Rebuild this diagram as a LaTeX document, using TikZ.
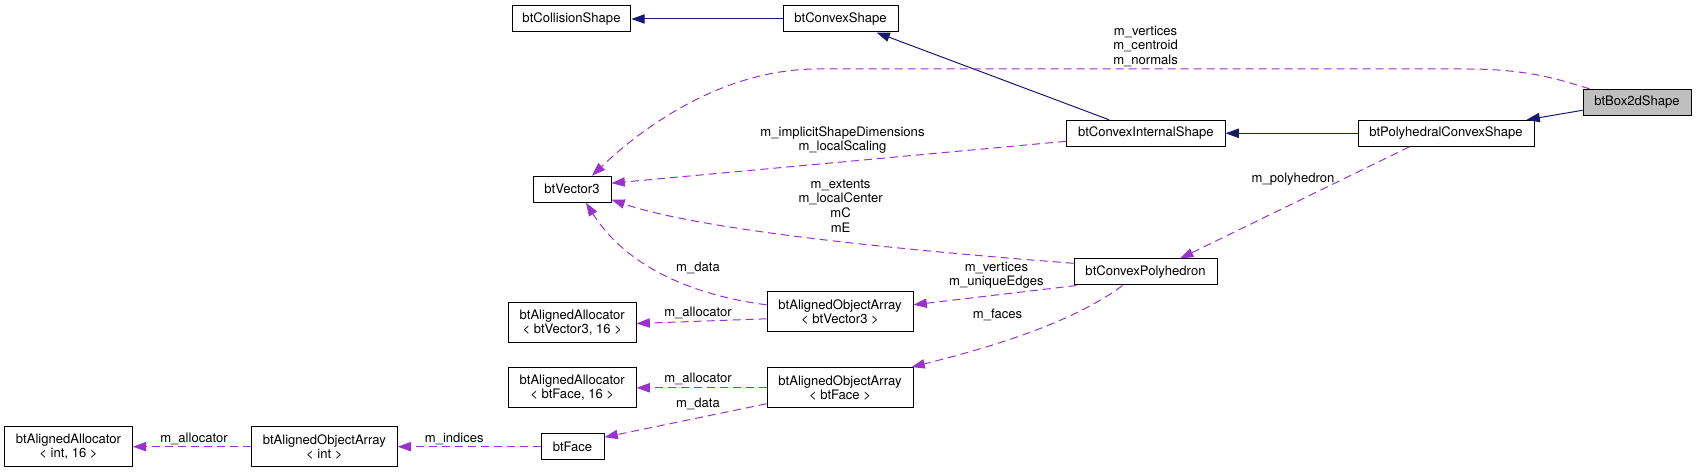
\documentclass[tikz,border=0pt]{standalone}
\usepackage{fontspec}
\setmainfont{TeX Gyre Heros}
\usetikzlibrary{arrows.meta,calc}
\definecolor{navy}{HTML}{191970}
\definecolor{orchid}{HTML}{9A32CD}
\definecolor{boxgray}{HTML}{BFBFBF}
\begin{document}
\begin{tikzpicture}[x=0.75pt,y=-0.75pt,
 cls/.style={draw=black, line width=0.75pt, inner sep=0pt, align=center, font=\fontsize{9.8}{10.5}\selectfont},
 lbl/.style={inner sep=0pt, align=center, font=\fontsize{9.8}{11}\selectfont},
 inh/.style={draw=navy, line width=0.75pt, -{Triangle[length=10pt,width=7pt]}},
 use/.style={draw=orchid, line width=0.75pt, dash pattern=on 6pt off 3.75pt, -{Triangle[length=10pt,width=7pt]}},
]
\useasboundingbox (0,0) rectangle (1696,473);
% classes
\node[cls, minimum width=89pt, minimum height=19.5pt] (coll) at (571.5,19) {btCollisionShape};
\node[cls, minimum width=86.25pt, minimum height=19.5pt] (cvx) at (840.5,19) {btConvexShape};
\node[cls, fill=boxgray, minimum width=81pt, minimum height=19.5pt] (box) at (1637,102.3) {btBox2dShape};
\node[cls, minimum width=118.8pt, minimum height=19.5pt] (cis) at (1145.8,133.3) {btConvexInternalShape};
\node[cls, minimum width=132pt, minimum height=19.5pt] (pcs) at (1446,133.3) {btPolyhedralConvexShape};
\node[cls, minimum width=58.5pt, minimum height=19.5pt] (vec) at (572,189.2) {btVector3};
\node[cls, minimum width=107.25pt, minimum height=19.5pt] (cp) at (1145.5,272) {btConvexPolyhedron};
\node[cls, minimum width=95.7pt, minimum height=30.3pt] (alv) at (572.2,322.5) {btAlignedAllocator\\< btVector3, 16 >};
\node[cls, minimum width=109.5pt, minimum height=30.3pt] (aov) at (840,311.8) {btAlignedObjectArray\\< btVector3 >};
\node[cls, minimum width=95.7pt, minimum height=30.3pt] (alf) at (572.2,387.8) {btAlignedAllocator\\< btFace, 16 >};
\node[cls, minimum width=109.5pt, minimum height=30.3pt] (aof) at (840,387.8) {btAlignedObjectArray\\< btFace >};
\node[cls, minimum width=47.25pt, minimum height=19.5pt] (face) at (572.5,446.7) {btFace};
\node[cls, minimum width=95.85pt, minimum height=30.3pt] (ali) at (68.5,446.7) {btAlignedAllocator\\< int, 16 >};
\node[cls, minimum width=109.35pt, minimum height=30.3pt] (aoi) at (324.3,446.7) {btAlignedObjectArray\\< int >};
% inheritance
\draw[inh] ($(box.west)+(0,8)$) -- ($(pcs.north east)+(-8,0)$);
\draw[inh] (pcs.west) -- (cis.east);
\draw[inh] ($(cis.north west)+(43,0)$) -- ($(cvx.south)+(36,0)$);
\draw[inh] (cvx.west) -- (coll.east);
% usage
\draw[use] ($(box.north west)+(7,0)$) .. controls (1560,80) and (1530,69) .. (1466,69) -- (818,69) .. controls (720,69) and (640,130) .. ($(vec.north)+(20,0)$);
\draw[use] ($(cis.west)+(0,8)$) -- ($(vec.east)+(0,-6)$);
\draw[use] ($(pcs.south west)+(52,0)$) -- ($(cp.north)+(34.5,0)$);
\draw[use] ($(cp.west)+(0,-8.7)$) .. controls (900,250) and (700,230) .. ($(vec.south east)+(0,-3)$);
\draw[use] ($(cp.south west)+(3,0)$) -- ($(aov.east)+(0,-7)$);
\draw[use] ($(cp.south)+(-23,0)$) .. controls (1070,325) and (980,350) .. ($(aof.north east)+(-2,0)$);
\draw[use] ($(aov.west)+(0,-7)$) .. controls (690,295) and (625,265) .. ($(vec.south)+(14,0)$);
\draw[use] ($(aov.west)+(0,7)$) -- ($(alv.east)+(0,1)$);
\draw[use] (aof.west) -- (alf.east);
\draw[use] ($(aof.west)+(0,16)$) -- ($(face.north east)+(0,4)$);
\draw[use] (face.west) -- (aoi.east);
\draw[use] (aoi.west) -- (ali.east);
% labels
\node[lbl] (l1) at (1145.6,46.3) {m\_vertices\\m\_centroid\\m\_normals};
\node[lbl] (l2) at (842.5,140) {m\_implicitShapeDimensions\\m\_localScaling};
\node[lbl] (l3) at (1293,179) {m\_polyhedron};
\node[lbl] (l4) at (840.6,205.7) {m\_extents\\m\_localCenter\\mC\\mE};
\node[lbl] (l5) at (698,268) {m\_data};
\node[lbl] (l6) at (996.4,275.3) {m\_vertices\\m\_uniqueEdges};
\node[lbl] (l7) at (698,312.7) {m\_allocator};
\node[lbl] (l8) at (997.5,314.7) {m\_faces};
\node[lbl] (l9) at (698,379.3) {m\_allocator};
\node[lbl] (l10) at (698,403.7) {m\_data};
\node[lbl] (l11) at (194,438.7) {m\_allocator};
\node[lbl] (l12) at (454.3,438.7) {m\_indices};
\end{tikzpicture}
\end{document}
